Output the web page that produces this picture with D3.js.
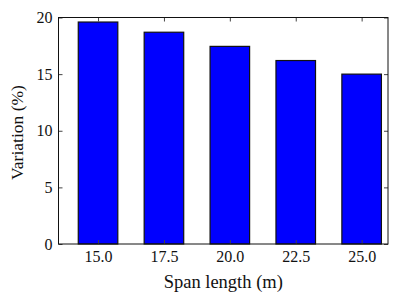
<!DOCTYPE html>
<html>
<head>
<meta charset="utf-8">
<script src="https://cdn.jsdelivr.net/npm/d3@7"></script>
<style>
  body { margin: 0; background: #fff; }
</style>
</head>
<body>
<div id="chart"></div>
<script>
const spans = [15.0, 17.5, 20.0, 22.5, 25.0];
const variation = [19.6, 18.7, 17.45, 16.2, 15.0];
const xTicks = [15.0, 17.5, 20.0, 22.5, 25.0];
const yTicks = [0, 5, 10, 15, 20];

const serif = "'Liberation Serif', 'DejaVu Serif', serif";

const margin = { top: 17.5, right: 11, bottom: 58, left: 58.5 },
	width = 399 - margin.left - margin.right,
	height = 302 - margin.top - margin.bottom;

const svg = d3.select('#chart')
	.append('svg')
	.attr('width', 399)
	.attr('height', 302)
	.append('g')
	.attr('transform', 'translate(' + margin.left + ',' + margin.top + ')');

const x = d3.scaleLinear().domain([13.5, 26]).range([0, width]);
const y = d3.scaleLinear().domain([0, 20]).range([height, 0]);
const barW = 1.5;

// bars
svg.selectAll('rect.bar')
	.data(spans)
	.enter()
	.append('rect')
	.attr('class', 'bar')
	.attr('x', (d) => x(d - barW / 2))
	.attr('width', (d) => x(d + barW / 2) - x(d - barW / 2))
	.attr('y', (d, i) => y(variation[i]))
	.attr('height', (d, i) => y(0) - y(variation[i]))
	.attr('fill', '#0000ff')
	.attr('stroke', '#111')
	.attr('stroke-width', 1.2);

// axes, ticks inward on all four sides
const fmt = d3.format('.1f');
const axBottom = svg.append('g')
	.attr('transform', 'translate(0,' + height + ')')
	.call(d3.axisBottom(x).tickValues(xTicks).tickFormat(fmt).tickSizeInner(-4).tickSizeOuter(0).tickPadding(7));
const axTop = svg.append('g')
	.call(d3.axisTop(x).tickValues(xTicks).tickFormat('').tickSizeInner(-4).tickSizeOuter(0));
const axLeft = svg.append('g')
	.call(d3.axisLeft(y).tickValues(yTicks).tickSizeInner(-4).tickSizeOuter(0).tickPadding(6));
const axRight = svg.append('g')
	.attr('transform', 'translate(' + width + ',0)')
	.call(d3.axisRight(y).tickValues(yTicks).tickFormat('').tickSizeInner(-4).tickSizeOuter(0));

[axBottom, axTop, axLeft, axRight].forEach((g) => {
	g.attr('font-family', serif);
	g.select('.domain').remove();
	g.selectAll('.tick line').attr('stroke', '#444').attr('stroke-width', 1);
	g.selectAll('.tick text').attr('font-size', 16).attr('font-family', serif).attr('fill', '#111');
});

// frame
svg.append('rect')
	.attr('width', width)
	.attr('height', height)
	.attr('fill', 'none')
	.attr('stroke', '#111')
	.attr('stroke-width', 1);

svg.append('text')
	.attr('x', width / 2)
	.attr('y', height + 44)
	.attr('text-anchor', 'middle')
	.attr('font-family', serif)
	.attr('font-size', 18.5)
	.attr('fill', '#111')
	.text('Span length (m)');

svg.append('text')
	.attr('transform', 'translate(' + (-36) + ',' + 115 + ') rotate(-90)')
	.attr('text-anchor', 'middle')
	.attr('font-family', serif)
	.attr('font-size', 17.5)
	.attr('fill', '#111')
	.text('Variation (%)');
</script>
</body>
</html>
